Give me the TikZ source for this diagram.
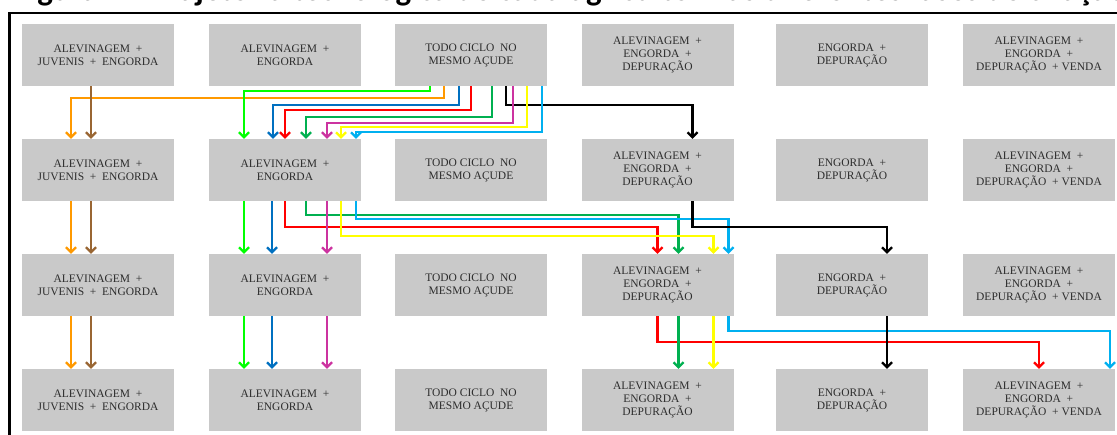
\documentclass[tikz,border=0pt]{standalone}
\usepackage{fontspec}
\setmainfont{Liberation Serif}
\newfontfamily\headingfont{Carlito}
\usetikzlibrary{arrows.meta}

\definecolor{boxgray}{RGB}{201,201,201}
\definecolor{boxtext}{RGB}{45,45,45}
\definecolor{lineLime}{RGB}{0,255,0}
\definecolor{lineOrange}{RGB}{255,153,0}
\definecolor{lineBrown}{RGB}{153,102,51}
\definecolor{lineBlue}{RGB}{0,112,192}
\definecolor{lineRed}{RGB}{255,0,0}
\definecolor{lineGreen}{RGB}{0,176,80}
\definecolor{lineMagenta}{RGB}{204,51,160}
\definecolor{lineYellow}{RGB}{255,255,0}
\definecolor{lineCyan}{RGB}{0,176,240}

\begin{document}
\begin{tikzpicture}[
    x=1pt, y=-1pt,
    heading/.style={font=\headingfont\bfseries\fontsize{33}{36}\selectfont, anchor=base west, inner sep=0pt},
    phase/.style={rectangle, fill=boxgray, minimum width=152pt, minimum height=62pt, inner sep=0pt, align=center, text=boxtext, font=\fontsize{11.5}{13}\selectfont},
    arrow/.style={-{Straight Barb[length=5pt,width=10pt]}, line width=2.2pt},
]
    \useasboundingbox (0,0) rectangle (1117,434);
    \clip (0,0) rectangle (1117,434);

    % Heading (cut at the top) and frame
    \node[heading] (head) at (14,0) {Figura 1 – Trajetória tecnológica de cada agricultor nas diferentes fases de criação};
    \draw[line width=2.5pt] (9.5,445) |- (1125,13);

    % Row 1
    \node[phase] (a1) at (98,55) {ALEVINAGEM~~+\\JUVENIS~~+~~ENGORDA};
    \node[phase] (a2) at (285,55) {ALEVINAGEM~~+\\ENGORDA};
    \node[phase] (a3) at (471,55) {TODO CICLO~~NO\\MESMO AÇUDE};
    \node[phase] (a4) at (657.5,55) {ALEVINAGEM~~+\\ENGORDA~~+\\DEPURAÇÃO};
    \node[phase] (a5) at (852,55) {ENGORDA~~+\\DEPURAÇÃO};
    \node[phase] (a6) at (1039,55) {ALEVINAGEM~~+\\ENGORDA~~+\\DEPURAÇÃO~~+ VENDA};

    % Row 2
    \node[phase] (b1) at (98,170) {ALEVINAGEM~~+\\JUVENIS~~+~~ENGORDA};
    \node[phase] (b2) at (285,170) {ALEVINAGEM~~+\\ENGORDA};
    \node[phase] (b3) at (471,170) {TODO CICLO~~NO\\MESMO AÇUDE};
    \node[phase] (b4) at (657.5,170) {ALEVINAGEM~~+\\ENGORDA~~+\\DEPURAÇÃO};
    \node[phase] (b5) at (852,170) {ENGORDA~~+\\DEPURAÇÃO};
    \node[phase] (b6) at (1039,170) {ALEVINAGEM~~+\\ENGORDA~~+\\DEPURAÇÃO~~+ VENDA};

    % Row 3
    \node[phase] (c1) at (98,285) {ALEVINAGEM~~+\\JUVENIS~~+~~ENGORDA};
    \node[phase] (c2) at (285,285) {ALEVINAGEM~~+\\ENGORDA};
    \node[phase] (c3) at (471,285) {TODO CICLO~~NO\\MESMO AÇUDE};
    \node[phase] (c4) at (657.5,285) {ALEVINAGEM~~+\\ENGORDA~~+\\DEPURAÇÃO};
    \node[phase] (c5) at (852,285) {ENGORDA~~+\\DEPURAÇÃO};
    \node[phase] (c6) at (1039,285) {ALEVINAGEM~~+\\ENGORDA~~+\\DEPURAÇÃO~~+ VENDA};

    % Row 4
    \node[phase] (d1) at (98,400) {ALEVINAGEM~~+\\JUVENIS~~+~~ENGORDA};
    \node[phase] (d2) at (285,400) {ALEVINAGEM~~+\\ENGORDA};
    \node[phase] (d3) at (471,400) {TODO CICLO~~NO\\MESMO AÇUDE};
    \node[phase] (d4) at (657.5,400) {ALEVINAGEM~~+\\ENGORDA~~+\\DEPURAÇÃO};
    \node[phase] (d5) at (852,400) {ENGORDA~~+\\DEPURAÇÃO};
    \node[phase] (d6) at (1039,400) {ALEVINAGEM~~+\\ENGORDA~~+\\DEPURAÇÃO~~+ VENDA};

    % Row 1 -> Row 2
    \draw[arrow, lineOrange] ([xshift=-27pt]a3.south) -- ++(0,12) -| ([xshift=-27pt]b1.north);
    \draw[arrow, lineLime] ([xshift=-41pt]a3.south) -- ++(0,5) -| ([xshift=-41pt]b2.north);
    \draw[arrow, lineBlue] ([xshift=-12pt]a3.south) -- ++(0,19) -| ([xshift=-12pt]b2.north);
    \draw[arrow, lineRed] (a3.south) -- ++(0,24) -| (b2.north);
    \draw[arrow, lineGreen] ([xshift=21pt]a3.south) -- ++(0,31) -| ([xshift=21pt]b2.north);
    \draw[arrow] ([xshift=35pt]a3.south) -- ++(0,19) -| ([xshift=35pt]b4.north);
    \draw[arrow, lineMagenta] ([xshift=42pt]a3.south) -- ++(0,37) -| ([xshift=42pt]b2.north);
    \draw[arrow, lineYellow] ([xshift=56pt]a3.south) -- ++(0,41) -| ([xshift=56pt]b2.north);
    \draw[arrow, lineCyan] ([xshift=71pt]a3.south) -- ++(0,46) -| ([xshift=71pt]b2.north);
    \draw[arrow, lineBrown] ([xshift=-7pt]a1.south) -- ([xshift=-7pt]b1.north);

    % Row 2 -> Row 3
    \draw[arrow, lineGreen] ([xshift=21pt]b2.south) -- ++(0,14) -| ([xshift=21pt]c4.north);
    \draw[arrow, lineCyan] ([xshift=71pt]b2.south) -- ++(0,18) -| ([xshift=71pt]c4.north);
    \draw[arrow, lineRed] (b2.south) -- ++(0,26) -| (c4.north);
    \draw[arrow, lineYellow] ([xshift=56pt]b2.south) -- ++(0,35) -| ([xshift=56pt]c4.north);
    \draw[arrow] ([xshift=35pt]b4.south) -- ++(0,26) -| ([xshift=35pt]c5.north);
    \draw[arrow, lineOrange] ([xshift=-27pt]b1.south) -- ([xshift=-27pt]c1.north);
    \draw[arrow, lineBrown] ([xshift=-7pt]b1.south) -- ([xshift=-7pt]c1.north);
    \draw[arrow, lineLime] ([xshift=-41pt]b2.south) -- ([xshift=-41pt]c2.north);
    \draw[arrow, lineBlue] ([xshift=-13pt]b2.south) -- ([xshift=-13pt]c2.north);
    \draw[arrow, lineMagenta] ([xshift=42pt]b2.south) -- ([xshift=42pt]c2.north);

    % Row 3 -> Row 4
    \draw[arrow, lineCyan] ([xshift=71pt]c4.south) -- ++(0,15) -| ([xshift=71pt]d6.north);
    \draw[arrow, lineRed] (c4.south) -- ++(0,26) -| (d6.north);
    \draw[arrow, lineGreen] ([xshift=21pt]c4.south) -- ([xshift=21pt]d4.north);
    \draw[arrow, lineYellow] ([xshift=56pt]c4.south) -- ([xshift=56pt]d4.north);
    \draw[arrow] ([xshift=35pt]c5.south) -- ([xshift=35pt]d5.north);
    \draw[arrow, lineOrange] ([xshift=-27pt]c1.south) -- ([xshift=-27pt]d1.north);
    \draw[arrow, lineBrown] ([xshift=-7pt]c1.south) -- ([xshift=-7pt]d1.north);
    \draw[arrow, lineLime] ([xshift=-41pt]c2.south) -- ([xshift=-41pt]d2.north);
    \draw[arrow, lineBlue] ([xshift=-13pt]c2.south) -- ([xshift=-13pt]d2.north);
    \draw[arrow, lineMagenta] ([xshift=42pt]c2.south) -- ([xshift=42pt]d2.north);
\end{tikzpicture}
\end{document}
